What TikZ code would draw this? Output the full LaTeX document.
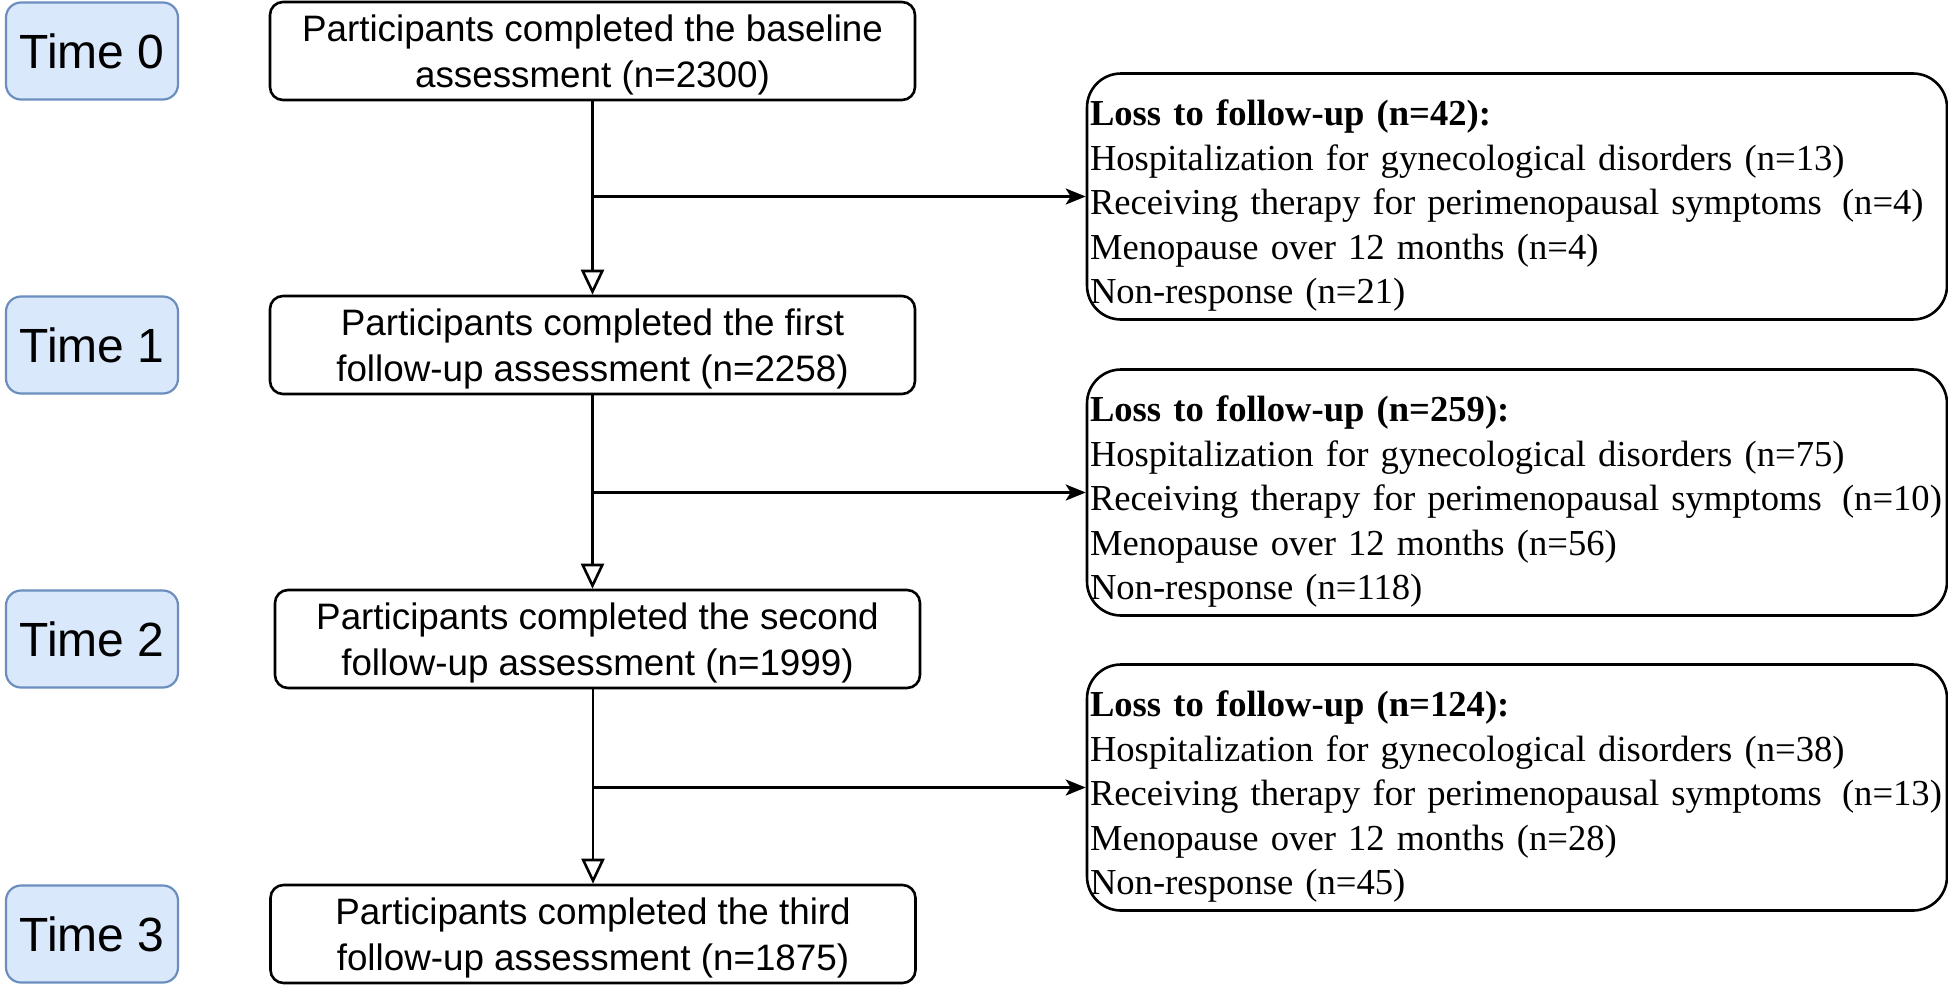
\documentclass[tikz,border=0pt]{standalone}
\usepackage{fontspec}
\setmainfont{Liberation Serif}
\setsansfont{Liberation Sans}
\usetikzlibrary{arrows.meta}
\definecolor{timefill}{HTML}{DAE8FC}
\definecolor{timeline}{HTML}{6C8EBF}

\begin{document}
\begin{tikzpicture}[x=0.5pt, y=-0.5pt,
  timebox/.style={rectangle, rounded corners=7.5pt, draw=timeline, fill=timefill, line width=1.1pt, minimum width=86pt, minimum height=48.5pt, font=\sffamily\fontsize{24}{28}\selectfont},
  partbox/.style={rectangle, rounded corners=6.5pt, draw, line width=1.3pt, minimum width=322.5pt, minimum height=49pt, inner ysep=0pt, align=center, font=\sffamily\fontsize{18.4}{23}\selectfont},
  lossbox/.style={rectangle, rounded corners=17pt, draw, line width=1.3pt, minimum height=123pt, inner xsep=1.5pt, inner ysep=0pt, text width=427pt, align=left, font=\fontsize{18.3}{22.2}\selectfont},
  flow/.style={line width=1.3pt, -{Triangle[open, length=12.5pt, width=11.5pt]}},
  branch/.style={line width=1.3pt, -{Stealth[length=10pt, width=8pt, inset=2.5pt]}}]
  \useasboundingbox (0,0) rectangle (1948,985);

  % time points
  \node[timebox] (t0) at (92,51) {Time 0};
  \node[timebox] (t1) at (92,345) {Time 1};
  \node[timebox] (t2) at (92,639) {Time 2};
  \node[timebox] (t3) at (92,934) {Time 3};

  % participants
  \node[partbox] (b0) at (592.5,51) {\rule{0pt}{17.3pt}Participants completed the baseline\\assessment (n=2300)};
  \node[partbox] (b1) at (592.5,345) {\rule{0pt}{17.3pt}Participants completed the first\\follow-up assessment (n=2258)};
  \node[partbox] (b2) at (597.5,639) {\rule{0pt}{17.3pt}Participants completed the second\\follow-up assessment (n=1999)};
  \node[partbox] (b3) at (593,934) {\rule{0pt}{17.3pt}Participants completed the third\\follow-up assessment (n=1875)};

  % losses
  \node[lossbox] (r0) at (1517,196.5) {\rule{0pt}{22pt}\textbf{Loss to follow-up (n=42):}\\
    Hospitalization for gynecological disorders (n=13)\\
    \mbox{Receiving therapy for perimenopausal symptoms\hspace{0.55em}(n=4)}\\
    Menopause over 12 months (n=4)\\
    Non-response (n=21)};
  \node[lossbox] (r1) at (1517,492.5) {\rule{0pt}{22pt}\textbf{Loss to follow-up (n=259):}\\
    Hospitalization for gynecological disorders (n=75)\\
    \mbox{Receiving therapy for perimenopausal symptoms\hspace{0.55em}(n=10)}\\
    Menopause over 12 months (n=56)\\
    Non-response (n=118)};
  \node[lossbox] (r2) at (1517,787.5) {\rule{0pt}{22pt}\textbf{Loss to follow-up (n=124):}\\
    Hospitalization for gynecological disorders (n=38)\\
    \mbox{Receiving therapy for perimenopausal symptoms\hspace{0.55em}(n=13)}\\
    Menopause over 12 months (n=28)\\
    Non-response (n=45)};

  \coordinate (j0) at (b0.south |- r0.west);
  \coordinate (j1) at (b1.south |- r1.west);
  \coordinate (j2) at (b3.north |- r2.west);

  \draw[flow] (b0.south) -- (b1.north);
  \draw[flow] (b1.south) -- (b1.south |- b2.north);
  \draw[flow] (b3.north |- b2.south) -- (b3.north);
  \draw[branch] (j0) -- (r0.west);
  \draw[branch] (j1) -- (r1.west);
  \draw[branch] (j2) -- (r2.west);
\end{tikzpicture}
\end{document}
